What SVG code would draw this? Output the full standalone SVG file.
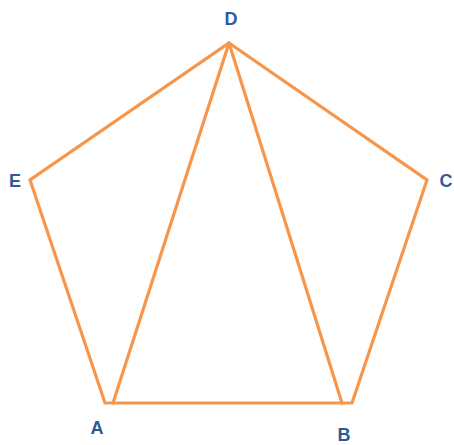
<svg xmlns="http://www.w3.org/2000/svg" width="454" height="445" viewBox="0 0 454 445">
<style>
.e{fill:none;stroke:#F7964A;stroke-width:3.2;stroke-linejoin:miter;stroke-linecap:round}
.l{font-family:"Liberation Sans",Arial,sans-serif;font-weight:bold;font-size:18px;fill:#2F5A98;text-anchor:middle}
</style>
<rect width="454" height="445" fill="#ffffff"/>
<g id="connectors">
<polygon class="e" points="229,43 427,180 352,403 105,403 30,180"/>
<line class="e" x1="229" y1="43" x2="113" y2="403"/>
<line class="e" x1="229" y1="43" x2="342" y2="403"/>
</g>
<g id="D"><text class="l" x="231" y="25">D</text></g>
<g id="E"><text class="l" x="15" y="187">E</text></g>
<g id="C"><text class="l" x="446" y="187">C</text></g>
<g id="A"><text class="l" x="97" y="434">A</text></g>
<g id="B"><text class="l" x="344" y="441">B</text></g>
</svg>
